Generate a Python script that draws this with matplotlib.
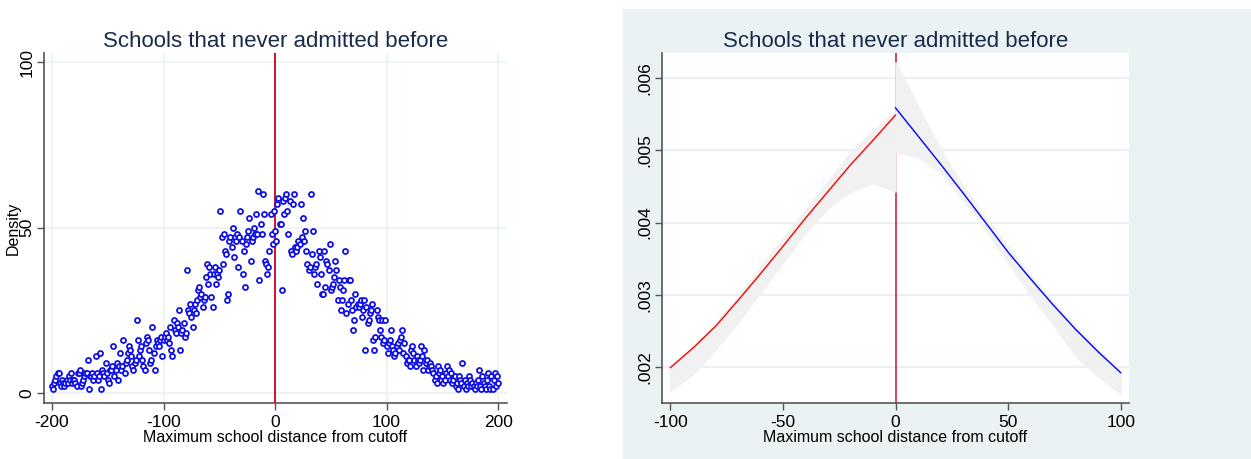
import numpy as np
import matplotlib.pyplot as plt
from matplotlib.patches import Rectangle

plt.rcParams['font.family'] = ['Liberation Sans', 'DejaVu Sans']
plt.rcParams['axes.unicode_minus'] = False

# left panel: binned density, one value per integer distance -200..200
dist = np.arange(-200, 201)
density = [
    2, 1, 3, 4, 5, 6, 6, 3, 2, 4, 3, 2, 3, 4, 3, 5, 4, 6, 3, 4,
    4, 3, 2, 6, 6, 7, 2, 3, 4, 5, 6, 6, 10, 1, 5, 5, 6, 4, 5, 11,
    6, 4, 5, 12, 1, 7, 6, 5, 9, 6, 4, 3, 7, 7, 8, 14, 5, 7, 9, 4,
    8, 12, 7, 8, 16, 6, 9, 10, 12, 14, 13, 11, 8, 7, 9, 10, 22, 16, 11, 13,
    14, 10, 8, 7, 15, 17, 16, 13, 9, 10, 20, 12, 7, 14, 16, 15, 14, 16, 17, 11,
    16, 17, 18, 16, 17, 15, 20, 13, 11, 22, 19, 18, 21, 20, 25, 13, 18, 19, 21, 17,
    18, 37, 25, 24, 27, 23, 20, 25, 27, 24, 28, 31, 32, 29, 30, 26, 28, 29, 35, 39,
    33, 38, 36, 29, 26, 36, 38, 33, 36, 35, 37, 55, 47, 39, 48, 43, 42, 28, 30, 46,
    47, 44, 50, 41, 47, 46, 48, 38, 47, 55, 46, 36, 43, 32, 45, 47, 49, 53, 40, 46,
    47, 50, 48, 54, 48, 61, 34, 51, 48, 60, 54, 40, 39, 36, 38, 43, 54, 48, 45, 55,
    49, 46, 57, 59, 51, 51, 31, 58, 54, 59, 60, 55, 48, 58, 43, 42, 57, 60, 44, 43,
    44, 46, 45, 57, 47, 53, 46, 49, 43, 39, 37, 38, 60, 42, 49, 36, 38, 39, 33, 43,
    41, 36, 30, 30, 43, 32, 40, 39, 37, 45, 31, 32, 33, 35, 40, 37, 28, 34, 32, 25,
    28, 31, 34, 43, 24, 27, 34, 34, 28, 25, 19, 22, 30, 26, 27, 26, 27, 28, 23, 25,
    28, 13, 26, 21, 22, 24, 25, 27, 16, 13, 17, 25, 23, 22, 19, 17, 22, 15, 16, 22,
    14, 12, 15, 16, 19, 14, 13, 11, 12, 14, 15, 13, 16, 17, 19, 12, 15, 11, 9, 10,
    10, 8, 13, 14, 12, 10, 8, 11, 10, 9, 10, 14, 11, 7, 13, 9, 10, 7, 8, 9,
    8, 7, 6, 4, 5, 3, 8, 6, 7, 4, 5, 3, 4, 6, 8, 5, 7, 4, 6, 3,
    4, 5, 2, 3, 1, 5, 4, 3, 9, 2, 4, 1, 3, 2, 5, 4, 2, 3, 2, 1,
    3, 2, 4, 7, 2, 1, 5, 3, 2, 1, 4, 6, 2, 1, 5, 1, 4, 6, 2, 5,
    3,
]

# right panel: estimated density on each side of the cutoff with 95% CI
x_left = [-100, -90, -80, -70, -60, -50, -40, -30, -20, -10, 0]
fit_left = [0.00199, 0.00226, 0.00256, 0.00292, 0.00329, 0.00367,
            0.00406, 0.00443, 0.00480, 0.00514, 0.00549]
lo_left = [0.00167, 0.00190, 0.00224, 0.00262, 0.00303, 0.00345,
           0.00386, 0.00420, 0.00443, 0.00455, 0.00443]
hi_left = [0.00199, 0.00227, 0.00259, 0.00298, 0.00338, 0.00378,
           0.00417, 0.00457, 0.00497, 0.00527, 0.00554]

x_right = [0, 10, 20, 30, 40, 50, 60, 70, 80, 90, 100]
fit_right = [0.00559, 0.00520, 0.00481, 0.00441, 0.00400, 0.00359,
             0.00322, 0.00286, 0.00252, 0.00221, 0.00192]
lo_right = [0.00498, 0.00491, 0.00470, 0.00432, 0.00390, 0.00345,
            0.00300, 0.00259, 0.00215, 0.00187, 0.00163]
hi_right = [0.00622, 0.00561, 0.00501, 0.00450, 0.00407, 0.00367,
            0.00327, 0.00290, 0.00256, 0.00224, 0.00192]

title = "Schools that never admitted before"
xlab = "Maximum school distance from cutoff"

bg = "#eaf2f3"
band = "#f1f1f1"
navy = "#1a2a4a"
spine_col = "#555555"

fig = plt.figure(figsize=(12.51, 4.59), dpi=100)
fig.patches.append(Rectangle((623 / 1251, 0), 628 / 1251, 450 / 459,
                             transform=fig.transFigure, color=bg, zorder=-10))


def style(ax):
    for s in ["top", "right"]:
        ax.spines[s].set_visible(False)
    for s in ["left", "bottom"]:
        ax.spines[s].set_color(spine_col)
        ax.spines[s].set_linewidth(1.2)
    ax.tick_params(colors=spine_col, labelcolor="black", length=5, width=1, labelsize=12.5)
    ax.tick_params(axis="y", pad=2)
    for lab in ax.get_yticklabels():
        lab.set_rotation(90)
        lab.set_va("center")
    ax.set_title(title, fontsize=16, color=navy, pad=4)
    ax.set_xlabel(xlab, fontsize=11.5, labelpad=0)


# left panel
ax1 = fig.add_axes([44 / 1251, 1 - 403 / 459, 463 / 1251, 350 / 459])
ax1.set_xlim(-207.2, 208)
ax1.set_ylim(-3.1, 102.8)
ax1.set_xticks([-200, -100, 0, 100, 200])
ax1.set_yticks([0, 50, 100])
ax1.grid(True, color=bg, linewidth=1.2)
ax1.set_axisbelow(True)
ax1.axvline(0, color="#d0102e", linewidth=1.4, zorder=3)
ax1.plot(dist, density, linestyle="none", marker="o", markersize=3.6,
         mfc="white", mec="#1010e8", mew=1.3, zorder=4)
ax1.set_ylabel("Density", fontsize=11.5)
ax1.yaxis.set_label_coords(-0.05, 0.5)
style(ax1)

# right panel
ax2 = fig.add_axes([662 / 1251, 1 - 403 / 459, 467 / 1251, 350 / 459])
ax2.set_facecolor("white")
ax2.set_xlim(-103.7, 103.7)
ax2.set_ylim(0.00150, 0.00635)
ax2.set_xticks([-100, -50, 0, 50, 100])
ax2.set_yticks([0.002, 0.003, 0.004, 0.005, 0.006])
ax2.set_yticklabels([".002", ".003", ".004", ".005", ".006"])
ax2.yaxis.grid(True, color=bg, linewidth=1.5)
ax2.set_axisbelow(True)
ax2.axvline(0, color="#d0102e", linewidth=1.1, zorder=2)
# CI bands sit on top of the cutoff line, edge stroked so it is fully hidden
ax2.fill_between(x_left, lo_left, hi_left, facecolor=band, edgecolor=band,
                 linewidth=1.2, zorder=3)
ax2.fill_between(x_right, lo_right, hi_right, facecolor=band, edgecolor=band,
                 linewidth=1.2, zorder=3)
ax2.plot(x_left, fit_left, color="#ff0000", linewidth=1.0, zorder=4)
ax2.plot(x_right, fit_right, color="#0000ff", linewidth=1.0, zorder=4)
style(ax2)

fig.savefig("out.png", dpi=100)
